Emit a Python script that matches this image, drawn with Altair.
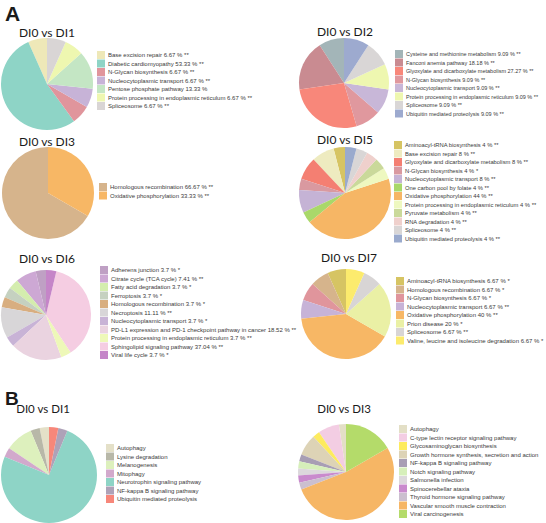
import altair as alt
import pandas as pd

# ---------------- Panel A ----------------
# DI0 vs DI1
a1_names = ["Base excision repair", "Diabetic cardiomyopathy", "N-Glycan biosynthesis",
            "Nucleocytoplasmic transport", "Pentose phosphate pathway",
            "Protein processing in endoplasmic reticulum", "Spliceosome"]
a1_values = [6.67, 53.33, 6.67, 6.67, 13.33, 6.67, 6.67]
a1_sig = ["**", "**", "**", "**", "", "**", "**"]
a1_colors = ["#EEE8B8", "#8ED4C6", "#E0959C", "#C7B3D7", "#C4E6C4", "#EEF7B0", "#D9D5D5"]

# DI0 vs DI2
a2_names = ["Cysteine and methionine metabolism", "Fanconi anemia pathway",
            "Glyoxylate and dicarboxylate metabolism", "N-Glycan biosynthesis",
            "Nucleocytoplasmic transport", "Protein processing in endoplasmic reticulum",
            "Spliceosome", "Ubiquitin mediated proteolysis"]
a2_values = [9.09, 18.18, 27.27, 9.09, 9.09, 9.09, 9.09, 9.09]
a2_sig = ["**"] * 8
a2_colors = ["#A3B5B8", "#C98B91", "#F8877A", "#E0989E", "#C8B7D8", "#EEF7B0", "#D9D6D6", "#9DAACF"]

# DI0 vs DI3
a3_names = ["Homologous recombination", "Oxidative phosphorylation"]
a3_values = [66.67, 33.33]
a3_sig = ["**", "**"]
a3_colors = ["#D6B48C", "#F7B765"]

# DI0 vs DI5
a5_names = ["Aminoacyl-tRNA biosynthesis", "Base excision repair",
            "Glyoxylate and dicarboxylate metabolism", "N-Glycan biosynthesis",
            "Nucleocytoplasmic transport", "One carbon pool by folate",
            "Oxidative phosphorylation", "Protein processing in endoplasmic reticulum",
            "Pyruvate metabolism", "RNA degradation", "Spliceosome",
            "Ubiquitin mediated proteolysis"]
a5_values = [4, 8, 8, 4, 8, 4, 44, 4, 4, 4, 4, 4]
a5_sig = ["**", "**", "**", "*", "**", "**", "**", "**", "**", "**", "**", "**"]
a5_colors = ["#D6C463", "#EEEBC0", "#F47F72", "#D999A0", "#C5B3D5", "#A9D86A",
             "#F6B665", "#EEF8C0", "#CAD99A", "#EFD0CC", "#D9D6D6", "#9AAACD"]

# DI0 vs DI6
a6_names = ["Adherens junction", "Citrate cycle (TCA cycle)", "Fatty acid degradation",
            "Ferroptosis", "Homologous recombination", "Necroptosis",
            "Nucleocytoplasmic transport",
            "PD-L1 expression and PD-1 checkpoint pathway in cancer",
            "Protein processing in endoplasmic reticulum", "Sphingolipid signaling pathway",
            "Viral life cycle"]
a6_values = [3.7, 7.41, 3.7, 3.7, 3.7, 11.11, 3.7, 18.52, 3.7, 37.04, 3.7]
a6_sig = ["*", "**", "*", "*", "*", "**", "*", "**", "**", "**", "*"]
a6_colors = ["#BFA0C4", "#CDA8D4", "#D4EDAE", "#C5D1C0", "#D8AE80", "#D8D6D8",
             "#C8B3D6", "#EAD3E0", "#EEF8B8", "#F5CDE2", "#C585C8"]

# DI0 vs DI7
a7_names = ["Aminoacyl-tRNA biosynthesis", "Homologous recombination", "N-Glycan biosynthesis",
            "Nucleocytoplasmic transport", "Oxidative phosphorylation", "Prion disease",
            "Spliceosome", "Valine, leucine and isoleucine degradation"]
a7_values = [6.67, 6.67, 6.67, 6.67, 40, 20, 6.67, 6.67]
a7_sig = ["*", "*", "*", "**", "**", "*", "**", "*"]
a7_colors = ["#D6C463", "#D6B48C", "#E0959C", "#C7B3D7", "#F7B765", "#EAF0A5", "#D8D5D5", "#FCEB6D"]

# ---------------- Panel B ----------------
b1_names = ["Autophagy", "Lysine degradation", "Melanogenesis", "Mitophagy",
            "Neurotrophin signaling pathway", "NF-kappa B signaling pathway",
            "Ubiquitin mediated proteolysis"]
b1_values = [1, 1, 3, 1, 24, 1, 1]
b1_colors = ["#E4E0C8", "#B8B8A8", "#DDF0BD", "#D2A9CC", "#8ED4C6", "#AEA2B8", "#F7877A"]

b3_names = ["Autophagy", "C-type lectin receptor signaling pathway",
            "Glycosaminoglycan biosynthesis", "Growth hormone synthesis, secretion and action",
            "NF-kappa B signaling pathway", "Notch signaling pathway", "Salmonella infection",
            "Spinocerebellar ataxia", "Thyroid hormone signaling pathway",
            "Vascular smooth muscle contraction", "Viral carcinogenesis"]
b3_values = [1, 3, 1, 3, 1, 1, 1, 1, 1, 22, 7]
b3_colors = ["#E3DFC6", "#F3CDE3", "#FDEB5E", "#DDD3B6", "#A89EB4", "#D6EFBA",
             "#DCD8DC", "#C98ACD", "#CBBFCF", "#F6B665", "#B4DB6A"]


def pie(names, values, colors, cx, cy, r, lx, ly, sig=None, fs=6.0):
    if sig is not None:
        labels = [f"{n} {v:g} % {s}".rstrip() for n, v, s in zip(names, values, sig)]
    else:
        labels = list(names)
    df = pd.DataFrame({"label": labels, "value": values, "idx": list(range(len(labels)))})
    return alt.Chart(df).mark_arc(radius=r).encode(
        theta=alt.Theta("value:Q", stack=True),
        color=alt.Color(
            "label:N",
            scale=alt.Scale(domain=labels, range=colors),
            legend=alt.Legend(
                orient="none", legendX=lx, legendY=ly, title=None,
                symbolType="square", symbolSize=64, symbolStrokeWidth=0,
                symbolOpacity=1, labelFontSize=fs, labelFont="Liberation Sans",
                labelColor="#3a3a3a", rowPadding=0.5, labelOffset=3, padding=0,
                labelLimit=400, symbolOffset=0,
            ),
        ),
        order=alt.Order("idx:Q", sort="descending"),
        x=alt.value(cx),
        y=alt.value(cy),
    )


def text(s, x, y, size, weight="normal", font="Lato", align="center"):
    return alt.Chart(pd.DataFrame({"t": [s]})).mark_text(
        fontSize=size, font=font, fontWeight=weight, align=align,
        baseline="middle", color="#1a1a1a",
    ).encode(text="t:N", x=alt.value(x), y=alt.value(y))


layers = [
    pie(a1_names, a1_values, a1_colors, 47, 84, 46, 97, 51, a1_sig, 6.0),
    pie(a2_names, a2_values, a2_colors, 344, 83, 45, 395, 50, a2_sig, 5.5),
    pie(a3_names, a3_values, a3_colors, 48, 193, 46, 99, 183, a3_sig, 6.0),
    pie(a5_names, a5_values, a5_colors, 345, 193, 46, 394, 141, a5_sig, 5.8),
    pie(a6_names, a6_values, a6_colors, 46, 315, 45, 100, 266, a6_sig, 6.0),
    pie(a7_names, a7_values, a7_colors, 346, 314, 45, 396, 277, a7_sig, 6.0),
    pie(b1_names, b1_values, b1_colors, 49, 475, 48, 106, 444, None, 6.0),
    pie(b3_names, b3_values, b3_colors, 346, 472, 48, 399, 425, None, 6.0),
    text("A", 5, 15, 21, "bold", "Liberation Sans", "left"),
    text("B", 5, 399, 19, "bold", "Liberation Sans", "left"),
    text("DI0 vs DI1", 47, 33, 12),
    text("DI0 vs DI2", 345, 32, 12),
    text("DI0 vs DI3", 47, 142, 12),
    text("DI0 vs DI5", 345, 140, 12),
    text("DI0 vs DI6", 47, 259, 12),
    text("DI0 vs DI7", 349, 258, 12),
    text("DI0 vs DI1", 43, 410, 11.5),
    text("DI0 vs DI3", 344, 410, 11.5),
]

chart = alt.layer(*layers).resolve_scale(
    color="independent", theta="independent"
).properties(
    width=546, height=523, autosize=alt.AutoSizeParams(type="none"), padding=0,
    background="white",
).configure_view(stroke=None)

chart.save("out.html", embed_options={"renderer": "svg", "actions": False})
